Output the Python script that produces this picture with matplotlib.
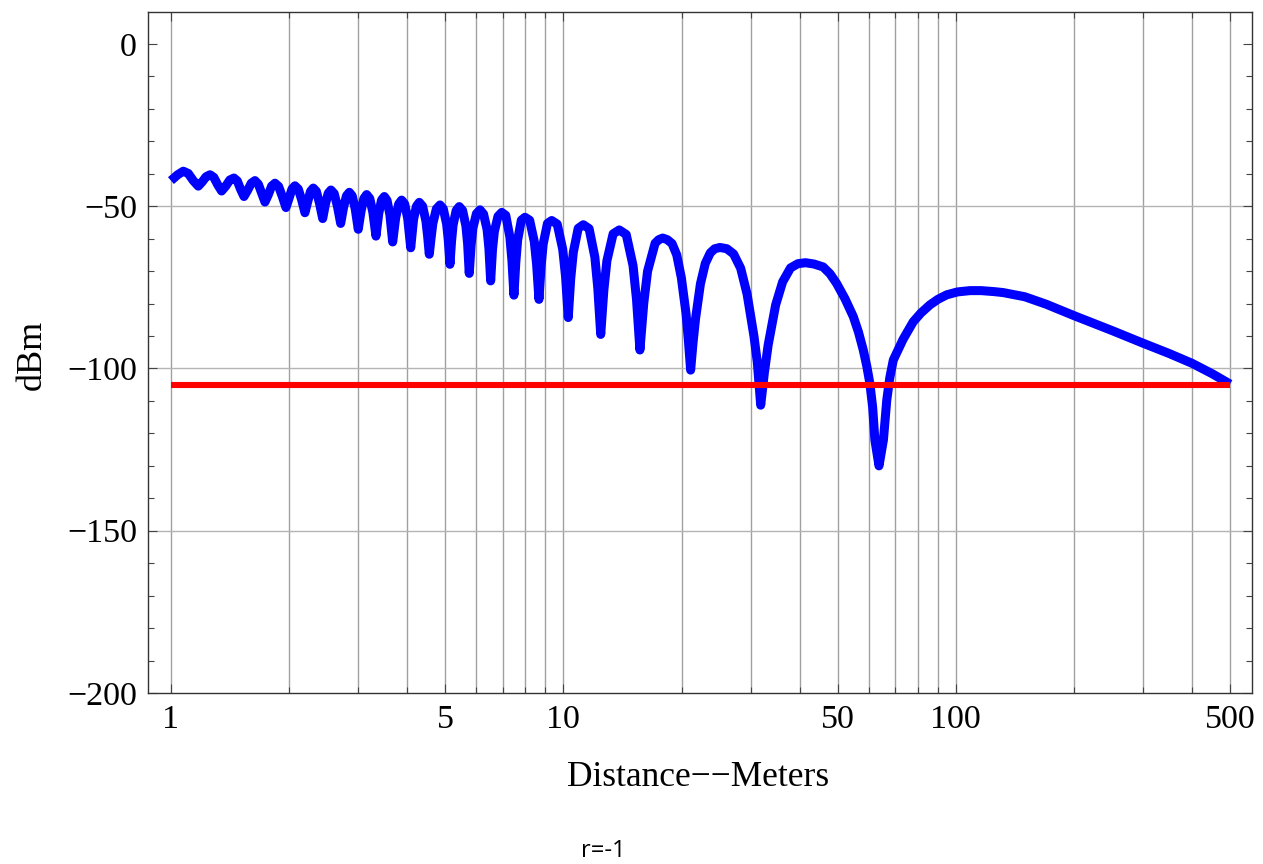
import numpy as np
import matplotlib
matplotlib.use("Agg")
import matplotlib.pyplot as plt
from matplotlib.ticker import FixedLocator, NullFormatter


# received power vs distance, two-ray ground reflection (r = -1)
distance_m = [
    1.000, 1.040, 1.075, 1.107, 1.140, 1.174, 1.201, 1.229, 1.257, 1.286,
    1.316, 1.346, 1.379, 1.413, 1.447, 1.476, 1.505, 1.535, 1.568, 1.602,
    1.637, 1.670, 1.703, 1.736, 1.771, 1.805, 1.841, 1.881, 1.922, 1.964,
    1.999, 2.034, 2.070, 2.111, 2.153, 2.195, 2.231, 2.268, 2.305, 2.347,
    2.391, 2.436, 2.475, 2.516, 2.557, 2.606, 2.656, 2.707, 2.753, 2.800,
    2.848, 2.897, 2.949, 3.001, 3.051, 3.102, 3.153, 3.211, 3.270, 3.330,
    3.385, 3.440, 3.497, 3.554, 3.613, 3.673, 3.738, 3.805, 3.871, 3.941,
    4.011, 4.083, 4.151, 4.222, 4.294, 4.378, 4.465, 4.509, 4.553, 4.600,
    4.649, 4.747, 4.849, 4.943, 5.041, 5.091, 5.140, 5.188, 5.235, 5.331,
    5.429, 5.536, 5.645, 5.702, 5.756, 5.818, 5.879, 6.003, 6.131, 6.260,
    6.392, 6.460, 6.527, 6.598, 6.670, 6.814, 6.965, 7.132, 7.306, 7.394,
    7.482, 7.565, 7.645, 7.813, 7.982, 8.204, 8.431, 8.548, 8.665, 8.774,
    8.884, 9.108, 9.337, 9.645, 9.963, 10.13, 10.29, 10.44, 10.60, 10.91,
    11.24, 11.63, 12.03, 12.24, 12.45, 12.68, 12.91, 13.39, 13.88, 14.46,
    15.05, 15.36, 15.67, 16.03, 16.39, 17.13, 17.50, 17.91, 18.40, 18.92,
    19.45, 19.98, 20.54, 20.82, 21.10, 21.41, 21.72, 22.35, 23.00, 23.67,
    24.30, 25.06, 26.10, 27.15, 28.30, 29.39, 30.59, 31.20, 31.83, 32.53,
    33.25, 34.75, 36.20, 37.92, 39.60, 41.40, 43.50, 45.90, 47.80, 49.70,
    52.20, 54.80, 56.50, 58.10, 59.30, 60.40, 61.40, 62.20, 63.72, 65.40,
    66.70, 67.90, 69.30, 73.40, 77.90, 81.50, 85.90, 90.00, 94.80, 101.0,
    108.7, 116.0, 125.0, 132.0, 140.2, 150.0, 170.0, 200.0, 250.0, 300.0,
    350.0, 400.0, 450.0, 500.0,
]
power_dbm = [
    -42.1, -40.3, -39.2, -39.9, -42.1, -43.8, -42.5, -40.9, -40.3, -41.1,
    -43.4, -45.3, -43.8, -41.9, -41.3, -42.2, -44.8, -47.0, -45.1, -42.9,
    -42.1, -43.2, -46.0, -48.7, -46.4, -43.8, -42.9, -43.9, -47.0, -50.4,
    -47.6, -44.7, -43.7, -44.7, -48.0, -52.0, -48.6, -45.4, -44.4, -45.4,
    -49.1, -53.8, -49.4, -46.0, -45.0, -46.1, -50.0, -55.3, -50.4, -46.8,
    -45.7, -46.8, -50.9, -57.1, -51.5, -47.6, -46.4, -47.6, -51.9, -59.2,
    -52.2, -48.1, -47.0, -48.2, -52.6, -61.0, -53.6, -49.3, -48.1, -49.3,
    -53.7, -62.8, -54.1, -50.0, -48.8, -50.0, -54.6, -59.2, -64.8, -59.9,
    -55.3, -50.8, -49.6, -50.8, -55.5, -60.6, -67.9, -60.8, -55.8, -51.3,
    -50.1, -51.3, -56.1, -61.6, -70.7, -62.1, -56.8, -52.3, -51.1, -52.4,
    -57.2, -62.9, -73.0, -63.3, -57.8, -53.1, -51.9, -52.8, -59.5, -66.7,
    -77.4, -67.3, -60.5, -54.3, -53.4, -54.3, -60.9, -68.0, -78.7, -68.5,
    -61.6, -55.3, -54.4, -55.5, -63.3, -71.7, -84.3, -72.3, -64.2, -56.8,
    -55.7, -56.9, -65.7, -75.3, -89.5, -75.9, -66.8, -58.5, -57.3, -58.7,
    -68.3, -78.7, -94.3, -79.8, -70.0, -61.4, -60.3, -59.8, -60.3, -61.5,
    -65.0, -72.0, -83.1, -91.2, -100.5, -91.8, -84.6, -73.9, -67.6, -64.4,
    -63.1, -62.7, -63.1, -64.7, -69.1, -77.1, -90.0, -98.0, -111.3, -101.2,
    -92.8, -80.4, -73.3, -69.0, -67.7, -67.4, -67.8, -68.7, -70.8, -73.8,
    -78.5, -84.0, -88.8, -94.3, -99.2, -104.6, -112.0, -122.0, -130.0, -122.0,
    -109.7, -102.8, -97.4, -91.0, -85.6, -82.9, -80.4, -78.7, -77.3, -76.4,
    -76.0, -76.0, -76.3, -76.6, -77.2, -77.9, -80.2, -83.7, -88.3, -92.2,
    -95.4, -98.4, -101.6, -104.8,
]

# receiver sensitivity
sensitivity_dbm = -105
sensitivity_range = [1, 500]

x_major = [1, 5, 10, 50, 100, 500]
x_minor = [2, 3, 4, 6, 7, 8, 9, 20, 30, 40, 60, 70, 80, 90, 200, 300, 400]
y_major = [0, -50, -100, -150, -200]
y_minor = [v for v in range(0, -201, -10) if v % 50]
y_grid = [-50, -100, -150]

serif = "Liberation Serif"
plt.rcParams["font.family"] = serif

fig = plt.figure(figsize=(12.63, 8.64), dpi=100)
ax = fig.add_axes([148 / 1263, 1 - 693 / 864, 1104 / 1263, 681 / 864])
ax.set_xscale("log")
ax.set_xlim(0.874, 568.6)
ax.set_ylim(-200, 9.86)

# grid: every decade step vertically, -50 steps horizontally
for x in x_major + x_minor:
    ax.axvline(x, color="#a0a0a0", lw=1.0, zorder=1)
for y in y_grid:
    ax.axhline(y, color="#b4b4b4", lw=1.0, zorder=1)

ax.plot(distance_m, power_dbm, color="#0000ff", lw=6.5,
        solid_joinstyle="round", solid_capstyle="butt", zorder=3)
ax.plot(sensitivity_range, [sensitivity_dbm] * 2, color="#ff0000", lw=4.4,
        solid_capstyle="butt", zorder=4)

ax.xaxis.set_major_locator(FixedLocator(x_major))
ax.xaxis.set_minor_locator(FixedLocator(x_minor))
ax.set_xticklabels([str(v) for v in x_major])
ax.xaxis.set_minor_formatter(NullFormatter())
ax.yaxis.set_major_locator(FixedLocator(y_major))
ax.yaxis.set_minor_locator(FixedLocator(y_minor))
ax.set_yticklabels(["0" if v == 0 else "\u2212" + str(-v) for v in y_major])

ax.tick_params(which="both", direction="in", top=True, right=True,
               color="#444444", width=0.8)
ax.tick_params(which="major", length=6.5, labelsize=24.5, pad=8)
ax.tick_params(which="minor", length=4.3)
for s in ax.spines.values():
    s.set_color("#333333")
    s.set_linewidth(1.0)

fig.text(698 / 1263, 1 - 778 / 864, "Distance\u2212\u2212Meters", fontsize=25.5,
         ha="center", va="center", family=serif)
fig.text(32 / 1263, 1 - 355 / 864, "dBm", fontsize=26, rotation=90,
         ha="center", va="center", family=serif)
fig.text(603 / 1263, 1 - 851 / 864, "r=-1", fontsize=17,
         ha="center", va="center", family=["Open Sans", "DejaVu Sans"])

fig.savefig("out.png", dpi=100)
